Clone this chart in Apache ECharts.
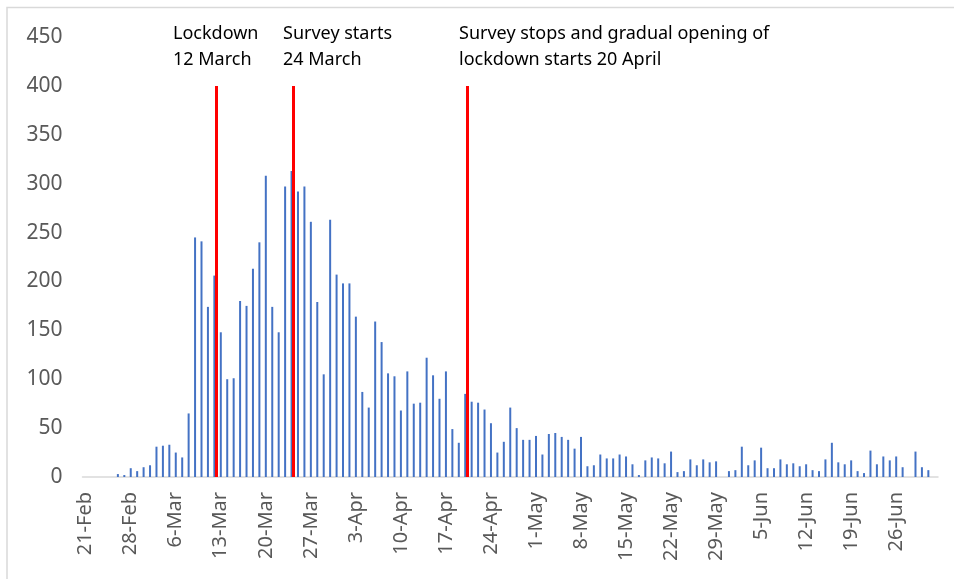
<!DOCTYPE html>
<html>
<head>
<meta charset="utf-8">
<script src="https://cdn.jsdelivr.net/npm/echarts@6/dist/echarts.min.js"></script>
<style>
  html, body { margin: 0; padding: 0; background: #fff; }
  #main { width: 954px; height: 579px; }
</style>
</head>
<body>
<div id="main"></div>
<script>
// months shown on the x axis (2020) and the first / last day of each in the data
const monthNames = ['Feb', 'Mar', 'Apr', 'May', 'Jun', 'Jul'];
const firstDay = [21, 1, 1, 1, 1, 1];
const lastDay = [29, 31, 30, 31, 30, 2];

// daily values, one array per month
const febValues = [0, 0, 0, 0, 0, 3, 2, 9, 6];
const marValues = [10, 12, 31, 32, 33, 25, 20, 65, 245, 241, 174, 206, 148, 100, 101, 180,
  175, 213, 240, 308, 174, 148, 297, 313, 292, 297, 261, 179, 105, 263, 207];
const aprValues = [198, 198, 164, 87, 71, 159, 138, 106, 103, 68, 108, 75, 76, 122, 104, 80,
  108, 49, 35, 85, 77, 76, 69, 55, 25, 36, 71, 50, 38, 38];
const mayValues = [42, 23, 44, 45, 41, 38, 29, 41, 11, 12, 23, 19, 19, 23, 21, 13,
  2, 17, 20, 19, 14, 26, 5, 6, 18, 12, 18, 15, 16, 0, 6];
const junValues = [7, 31, 12, 17, 30, 9, 9, 18, 13, 14, 11, 13, 7, 6, 18, 35,
  15, 13, 17, 6, 4, 27, 13, 21, 17, 21, 10, 0, 26, 10];
const julValues = [7, 0];

// y axis ticks
const yTicks = [0, 50, 100, 150, 200, 250, 300, 350, 400, 450];

// events marked with red lines
const eventDates = ['12-Mar', '24-Mar', '20-Apr'];
const eventLineTop = 400;
const eventTexts = [
  'Lockdown\n12 March',
  'Survey starts\n24 March',
  'Survey stops and gradual opening of\nlockdown starts 20 April'
];
const eventTextLeft = [173, 283, 459];

// build the category labels like "21-Feb"
let categories = [];
monthNames.forEach(function (m, i) {
  for (let d = firstDay[i]; d <= lastDay[i]; d++) {
    categories.push(d + '-' + m);
  }
});
const values = [].concat(febValues, marValues, aprValues, mayValues, junValues, julValues);

const chart = echarts.init(document.getElementById('main'));

chart.setOption({
  animation: false,
  textStyle: { fontFamily: 'Noto Sans' },
  grid: { left: 82.5, right: 16, top: 37, bottom: 102 },
  xAxis: {
    type: 'category',
    data: categories,
    boundaryGap: true,
    axisLine: { lineStyle: { color: '#d9d9d9', width: 1.5 } },
    axisTick: { show: false },
    axisLabel: {
      interval: 6,
      rotate: 90,
      margin: 15,
      fontSize: 20,
      color: '#595959'
    }
  },
  yAxis: {
    type: 'value',
    min: yTicks[0],
    max: yTicks[yTicks.length - 1],
    interval: 50,
    axisLine: { show: false },
    axisTick: { show: false },
    splitLine: { show: false },
    axisLabel: { fontSize: 21, color: '#595959', margin: 20 }
  },
  series: [
    {
      type: 'bar',
      data: values,
      barWidth: 2,
      itemStyle: { color: '#4472C4' }
    }
  ],
  graphic: [
    {
      type: 'rect',
      silent: true,
      shape: { x: 7, y: 7.5, width: 1000, height: 700 },
      style: { fill: 'none', stroke: '#d9d9d9', lineWidth: 1.5 }
    }
  ].concat(eventTexts.map(function (t, i) {
    return {
      type: 'text',
      left: eventTextLeft[i],
      top: 21,
      style: {
        text: t,
        fontFamily: 'Noto Sans',
        fontSize: 18,
        lineHeight: 26,
        fill: '#000'
      }
    };
  }))
});

// red event lines: placed through the axes, nudged a bit right of the day's bar
const yBase = chart.convertToPixel({ yAxisIndex: 0 }, 0);
const yTop = chart.convertToPixel({ yAxisIndex: 0 }, eventLineTop);
chart.setOption({
  series: [{
    markLine: {
      silent: true,
      symbol: ['none', 'none'],
      label: { show: false },
      lineStyle: { color: '#ff0000', width: 3, type: 'solid' },
      z: 5,
      data: eventDates.map(function (d) {
        const px = chart.convertToPixel({ xAxisIndex: 0 }, d) + 1.7;
        return [{ x: px, y: yBase }, { x: px, y: yTop }];
      })
    }
  }]
});
</script>
</body>
</html>
